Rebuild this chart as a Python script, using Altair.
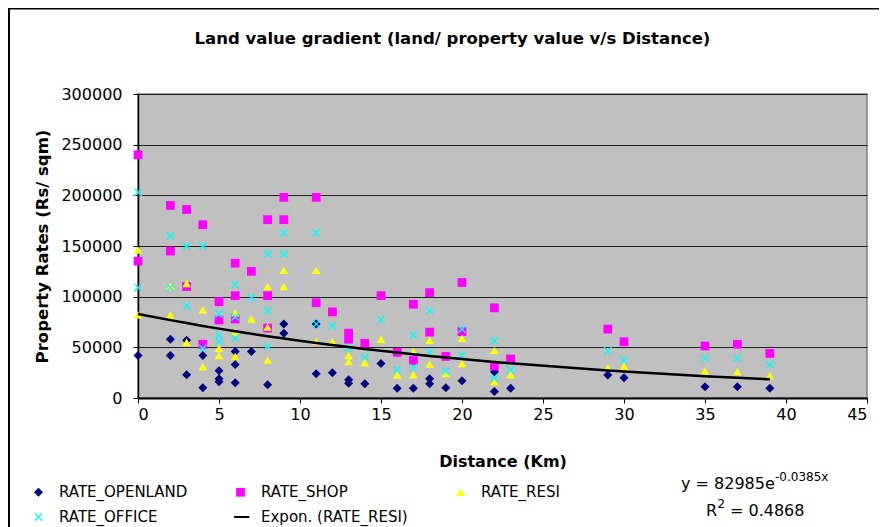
import altair as alt
import pandas as pd

SERIES_NAMES = ["RATE_OPENLAND", "RATE_SHOP", "RATE_RESI", "RATE_OFFICE"]
TREND_NAME = "Expon. (RATE_RESI)"

OPENLAND_KM = [0, 2, 2, 3, 3, 4, 4, 5, 5, 5, 6, 6, 6, 7, 8, 9, 9, 11, 11, 12, 13, 13, 14, 15, 16, 17, 18, 18, 19, 20,
               22, 22, 23, 29, 30, 35, 37, 39]
OPENLAND_RATE = [42000, 58000, 42000, 57000, 23000, 42000, 10000, 27000, 19000, 16000, 46000, 33000, 15000, 46000,
                 13000, 73000, 64000, 73000, 24000, 25000, 18000, 14500, 14000, 34000, 9500, 9500, 19000, 14000,
                 10000, 17000, 26000, 6500, 9500, 22700, 20000, 11000, 11000, 9500]

SHOP_KM = [0, 0, 2, 2, 3, 3, 4, 4, 5, 5, 6, 6, 6, 7, 8, 8, 8, 9, 9, 11, 11, 12, 13, 13, 14, 15, 16, 17, 17, 18,
           18, 19, 20, 20, 22, 22, 23, 29, 30, 35, 37, 39]
SHOP_RATE = [240000, 135000, 190000, 145000, 186000, 110000, 171000, 53000, 95000, 77000, 133000, 101000, 78000,
             125000, 176000, 101000, 69000, 198000, 176000, 198000, 94000, 85000, 64000, 58000, 54000, 101000,
             45000, 92500, 37000, 104000, 65000, 41000, 114000, 65500, 89000, 31500, 38500, 68000, 55500, 51300,
             53000, 44000]

RESI_KM = [0, 0, 2, 2, 3, 3, 4, 4, 5, 5, 6, 6, 6, 7, 8, 8, 8, 9, 9, 11, 11, 12, 13, 13, 14, 15, 16, 17, 17, 18,
           18, 19, 20, 20, 22, 22, 23, 29, 30, 35, 37, 39]
RESI_RATE = [146000, 82000, 110000, 82000, 113000, 55000, 87000, 31000, 49000, 42000, 84000, 65000, 41000, 78000,
             110000, 70000, 37500, 126000, 110000, 126000, 56000, 55500, 42000, 36000, 35000, 58000, 22700, 46000,
             23000, 57000, 33500, 24000, 59000, 34000, 47000, 16000, 23000, 30000, 31500, 26600, 26000, 22000]

OFFICE_KM = [0, 0, 2, 2, 3, 3, 4, 4, 5, 5, 5, 6, 6, 6, 7, 8, 8, 8, 9, 9, 11, 11, 12, 13, 14, 15, 16, 17, 17, 18,
             18, 19, 20, 20, 22, 22, 23, 29, 30, 35, 37, 39]
OFFICE_RATE = [203000, 109000, 160000, 109000, 150000, 91000, 150000, 49000, 83000, 62000, 56000, 112000, 80000,
               59000, 99000, 142000, 86000, 51000, 163000, 142000, 163000, 73000, 71000, 49000, 40000, 77000,
               28000, 62000, 30000, 86000, 45000, 26500, 68000, 42000, 56500, 19400, 27600, 46500, 37500, 39000,
               39000, 33000]

# Trendline as printed on the chart: y = 82985 e^(-0.0385 x), R^2 = 0.4868
TREND_A = 82985
TREND_B = -0.0385
EQ_MAIN = "y = 82985e"
EQ_SUP = "-0.0385x"
R2_MAIN = "R"
R2_SUP = "2"
R2_REST = "= 0.4868"

X_TICKS = [0, 5, 10, 15, 20, 25, 30, 35, 40, 45]
Y_TICKS = [0, 50000, 100000, 150000, 200000, 250000, 300000]

COLORS = ["#000080", "#FF00FF", "#FFFF00", "#00FFFF", "#000000"]
X_PATH = "M-0.77,-1L1,0.77L0.77,1L-1,-0.77Z M0.77,-1L1,-0.77L-0.77,1L-1,0.77Z"
TREND_PATH = "M-1.6,-0.25L2.2,-0.25L2.2,0.25L-1.6,0.25Z"
SHAPES = ["diamond", "square", "triangle-up", X_PATH, TREND_PATH]
SIZES = [81, 64, 110, 100, 100]
FONT = "DejaVu Sans"

rows = []
for name, xs, ys in [("RATE_OPENLAND", OPENLAND_KM, OPENLAND_RATE),
                     ("RATE_SHOP", SHOP_KM, SHOP_RATE),
                     ("RATE_RESI", RESI_KM, RESI_RATE),
                     ("RATE_OFFICE", OFFICE_KM, OFFICE_RATE)]:
    for xv, yv in zip(xs, ys):
        rows.append({"km": xv, "rate": yv, "series": name})
points_df = pd.DataFrame(rows)

trend_df = pd.DataFrame({"km": sorted(set(RESI_KM))})
trend_df["series"] = TREND_NAME

domain = SERIES_NAMES + [TREND_NAME]
x_scale = alt.Scale(domain=[0, 45], nice=False)
y_scale = alt.Scale(domain=[0, 300000], nice=False)
color_scale = alt.Scale(domain=domain, range=COLORS)

x_axis = alt.Axis(values=X_TICKS, title="Distance (Km)", grid=False, labelFont=FONT, labelFontSize=16,
                  labelColor="black", labelPadding=3, tickSize=5, tickColor="black", domainColor="black",
                  domainWidth=2, titleFont=FONT, titleFontSize=16, titleFontWeight="bold", titleColor="black",
                  titleY=63, titleBaseline="middle")
y_axis = alt.Axis(values=Y_TICKS, format="d", title="Property Rates (Rs/ sqm)", grid=True, gridColor="#222222",
                  gridWidth=1, labelFont=FONT, labelFontSize=16, labelColor="black", labelPadding=11, tickSize=5,
                  tickColor="black", domainColor="black", domainWidth=1.5, titleFont=FONT, titleFontSize=16.5,
                  titleFontWeight="bold", titleColor="black", titleAngle=270, titleX=-96, titleY=152,
                  titleAlign="center", titleBaseline="middle")

legend = alt.Legend(title=None, orient="none", legendX=-107, legendY=390.5, columns=3, direction="horizontal",
                    columnPadding=45, rowPadding=9, padding=0, symbolSize=100, symbolStrokeWidth=0,
                    labelOffset=13, labelFont=FONT, labelFontSize=15, labelColor="black", labelLimit=400)

points = alt.Chart(points_df).mark_point(filled=True, opacity=1, strokeWidth=0).encode(
    x=alt.X("km:Q", scale=x_scale, axis=x_axis),
    y=alt.Y("rate:Q", scale=y_scale, axis=y_axis),
    color=alt.Color("series:N", scale=color_scale, legend=legend, sort=domain),
    shape=alt.Shape("series:N", scale=alt.Scale(domain=domain, range=SHAPES), sort=domain),
    size=alt.Size("series:N", scale=alt.Scale(domain=domain, range=SIZES), legend=None),
)

trend = alt.Chart(trend_df).transform_calculate(
    rate=f"{TREND_A} * exp({TREND_B} * datum.km)"
).mark_line(strokeWidth=2.5).encode(
    x=alt.X("km:Q", scale=x_scale),
    y=alt.Y("rate:Q", scale=y_scale),
    color=alt.Color("series:N", scale=color_scale, legend=None),
)

one = pd.DataFrame({"k": [0]})


def label(text, x, y, size, weight="normal"):
    return alt.Chart(one).mark_text(text=text, font=FONT, fontSize=size, fontWeight=weight, align="left",
                                    baseline="middle", color="black").encode(x=alt.value(x), y=alt.value(y))


eq1 = label(EQ_MAIN, 543, 390, 16)
eq1s = label(EQ_SUP, 637, 383, 12)
r2a = label(R2_MAIN, 568, 417, 16)
r2s = label(R2_SUP, 579.5, 410, 12)
r2b = label(R2_REST, 592, 417, 16)

frame_top = alt.Chart(one).mark_rule(color="black", strokeWidth=2).encode(
    x=alt.value(-130), x2=alt.value(760), y=alt.value(-85.5), y2=alt.value(-85.5))
frame_left = alt.Chart(one).mark_rule(color="black", strokeWidth=2).encode(
    x=alt.value(-129), x2=alt.value(-129), y=alt.value(-86), y2=alt.value(440))

chart = alt.layer(points, trend, eq1, eq1s, r2a, r2s, r2b, frame_top, frame_left).properties(
    width=729, height=304,
    autosize=alt.AutoSizeParams(type="none"),
    padding={"left": 130, "top": 86, "right": 12, "bottom": 129},
    title=alt.TitleParams(text="Land value gradient (land/ property value v/s Distance)", font=FONT,
                          fontSize=16.5, fontWeight="bold", color="black", anchor="middle", dx=-50,
                          offset=-48.5, baseline="middle"),
    background="white",
).configure_view(fill="#C0C0C0", stroke="#808080", strokeWidth=1.5)

chart.save("out.html", embed_options={"renderer": "svg", "actions": False})
